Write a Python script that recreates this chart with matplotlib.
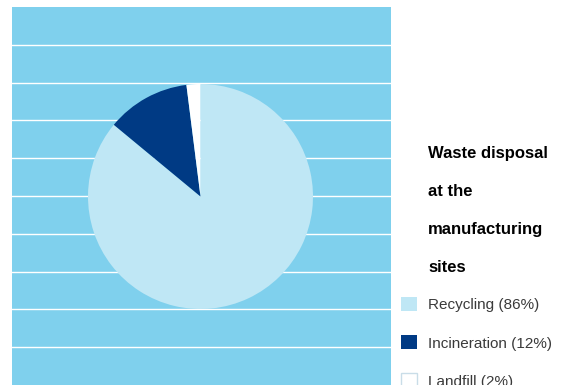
import numpy as np
import matplotlib.pyplot as plt

plt.rcParams['font.family'] = ['Liberation Sans', 'DejaVu Sans']

# waste shares at the manufacturing sites
labels = ['Recycling (86%)', 'Incineration (12%)', 'Landfill (2%)']
shares = [86, 12, 2]
colores = ['#bfe7f5', '#003a84', '#ffffff']
titulo = 'Waste disposal\nat the\nmanufacturing\nsites'

W, H = 567, 385
fig = plt.figure(figsize=(W / 100, H / 100), dpi=100)

# blue panel, measured in pixels
x0, y0, x1 = 12, 7, 391
ax = fig.add_axes([x0 / W, 0, (x1 - x0) / W, (H - y0) / H])
ax.set_facecolor('#7fd0ed')
ax.set_aspect('equal', adjustable='box')

# white stripes across the panel
ax.set_yticks(np.arange(1, 10) * 37.8)
ax.grid(axis='y', color='white', lw=1.0)
ax.set_axisbelow(True)
ax.tick_params(left=False, bottom=False, labelleft=False, labelbottom=False)
for s in ax.spines.values():
    s.set_visible(False)

# y runs downwards, so -90 is the top and counterclock turns clockwise on screen
wedges, _ = ax.pie(shares, colors=colores, startangle=-90, counterclock=True,
                   center=(188.5, 189.5), radius=112.5, frame=True,
                   wedgeprops=dict(linewidth=0))
ax.set_xticks([])
ax.set_xlim(0, x1 - x0)
ax.set_ylim(H - y0, 0)

# baseline of the last line ("sites")
fig.text(428 / W, 1 - 272 / H, titulo, fontsize=12, fontweight='bold',
         color='black', va='baseline', ha='left', linespacing=2.92)

leg = fig.legend(wedges, labels, loc='upper left',
                 bbox_to_anchor=(401 / W, 1 - 297 / H),
                 frameon=False, fontsize=11, borderpad=0, borderaxespad=0,
                 handlelength=1.05, handleheight=1.05, handletextpad=0.75,
                 labelspacing=1.5)
for t in leg.get_texts():
    t.set_color('#3a3a3a')
leg.legend_handles[2].set_edgecolor('#c9dde8')
leg.legend_handles[2].set_linewidth(1.0)

fig.savefig('out.png', dpi=100)
